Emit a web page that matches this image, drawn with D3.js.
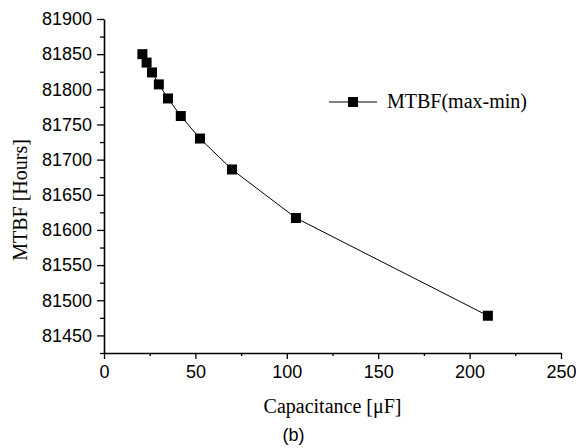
<!DOCTYPE html>
<html>
<head>
<meta charset="utf-8">
<script src="https://cdn.jsdelivr.net/npm/d3@7"></script>
<style>
  body { margin: 0; background: #fff; }
  svg { display: block; }
</style>
</head>
<body>
<div id="chart"></div>
<script>
// data
var capacitance = [21, 23.3, 26.25, 30, 35, 42, 52.5, 70, 105, 210];
var mtbf = [81850, 81838, 81824, 81807, 81787, 81762, 81730, 81686, 81617, 81478];
var xTicks = [0, 50, 100, 150, 200, 250];
var yTicks = [81450, 81500, 81550, 81600, 81650, 81700, 81750, 81800, 81850, 81900];
var seriesName = "MTBF(max-min)";

var width = 576, height = 448;
var margin = {top: 19, right: 15, bottom: 95, left: 104};

var svg = d3.select("#chart")
  .append("svg")
    .attr("width", width)
    .attr("height", height);

var x = d3.scaleLinear()
  .domain([0, 250])
  .range([margin.left, width - margin.right]);

var y = d3.scaleLinear()
  .domain([81425, 81900])
  .range([height - margin.bottom, margin.top]);

var sans = "'Liberation Sans', Arial, sans-serif";
var serif = "'Liberation Serif', 'Times New Roman', serif";

// minor ticks first
svg.append("g")
  .attr("transform", "translate(0," + y.range()[0] + ")")
  .call(d3.axisBottom(x).tickValues(d3.range(25, 250, 50)).tickSize(3).tickFormat(""))
  .call(function(g) { g.select(".domain").remove(); });

svg.append("g")
  .attr("transform", "translate(" + x.range()[0] + ",0)")
  .call(d3.axisLeft(y).tickValues(d3.range(81425, 81900, 50)).tickSize(4).tickFormat(""))
  .call(function(g) { g.select(".domain").remove(); });

// X axis
var xAxis = svg.append("g")
  .attr("transform", "translate(0," + y.range()[0] + ")")
  .call(d3.axisBottom(x).tickValues(xTicks).tickSize(6).tickSizeOuter(0).tickPadding(6));
xAxis.selectAll("text")
  .style("font-family", sans)
  .style("font-size", "18px")
  .attr("fill", "#000");

// Y axis
var yAxis = svg.append("g")
  .attr("transform", "translate(" + x.range()[0] + ",0)")
  .call(d3.axisLeft(y).tickValues(yTicks).tickSize(7).tickSizeOuter(0).tickPadding(5).tickFormat(d3.format("d")));
yAxis.selectAll("text")
  .style("font-family", sans)
  .style("font-size", "18px")
  .attr("fill", "#000");

svg.selectAll(".domain").attr("stroke-width", 1.6);
svg.selectAll(".tick line").attr("stroke-width", 1.3);

// axis labels
svg.append("text")
  .attr("text-anchor", "middle")
  .attr("x", (x.range()[0] + x.range()[1]) / 2)
  .attr("y", 413)
  .style("font-family", serif)
  .style("font-size", "20px")
  .text("Capacitance [\u03bcF]");

svg.append("text")
  .attr("text-anchor", "middle")
  .attr("transform", "translate(27,200) rotate(-90)")
  .style("font-family", serif)
  .style("font-size", "20px")
  .text("MTBF [Hours]");

svg.append("text")
  .attr("text-anchor", "middle")
  .attr("x", 293.5)
  .attr("y", 441)
  .style("font-family", sans)
  .style("font-size", "18px")
  .text("(b)");

// line and markers
var points = capacitance.map(function(c, i) { return {c: c, v: mtbf[i]}; });

var line = d3.line()
  .x(function(d) { return x(d.c); })
  .y(function(d) { return y(d.v); });

svg.append("path")
  .datum(points)
  .attr("fill", "none")
  .attr("stroke", "#000")
  .attr("stroke-width", 1)
  .attr("d", line);

var ms = 10;
svg.selectAll("rect.marker")
  .data(points)
  .enter()
  .append("rect")
    .attr("class", "marker")
    .attr("x", function(d) { return x(d.c) - ms / 2; })
    .attr("y", function(d) { return y(d.v) - ms / 2; })
    .attr("width", ms)
    .attr("height", ms)
    .attr("fill", "#000");

// legend
var legend = svg.append("g").attr("transform", "translate(329,102)");
legend.append("line")
  .attr("x1", 0).attr("x2", 48)
  .attr("stroke", "#000").attr("stroke-width", 1);
legend.append("rect")
  .attr("x", 24 - ms / 2).attr("y", -ms / 2)
  .attr("width", ms).attr("height", ms)
  .attr("fill", "#000");
legend.append("text")
  .attr("x", 58)
  .attr("y", 6)
  .style("font-family", serif)
  .style("font-size", "20px")
  .text(seriesName);
</script>
</body>
</html>
